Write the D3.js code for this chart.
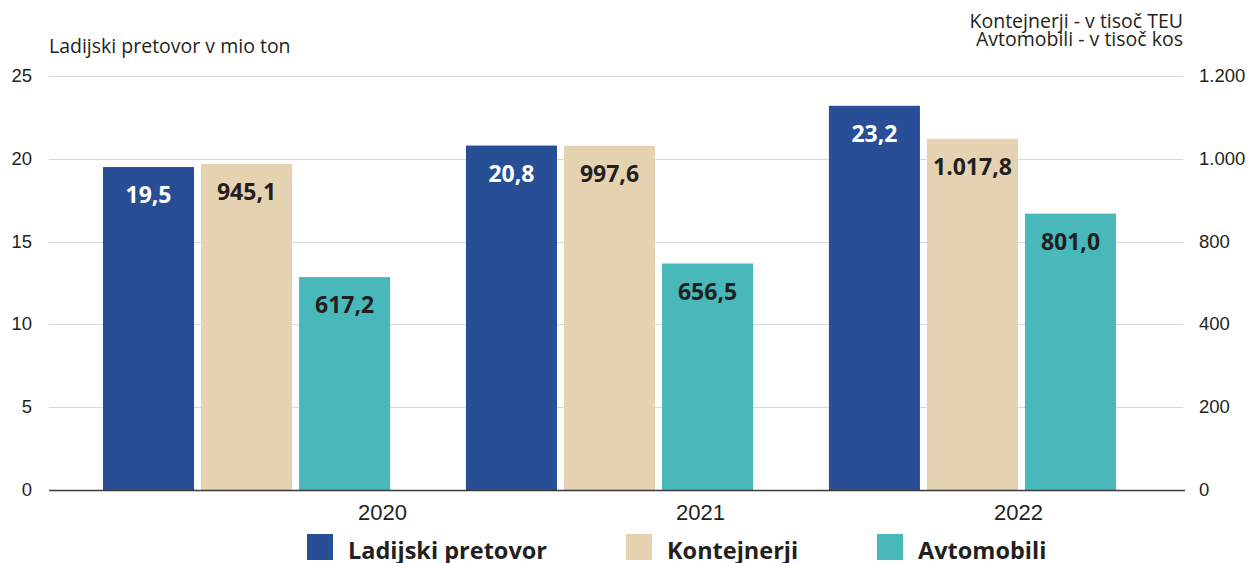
<!DOCTYPE html>
<html lang="sl">
<head>
    <meta charset="UTF-8">
    <title>Ladijski pretovor, kontejnerji in avtomobili</title>
    <script src="https://d3js.org/d3.v7.min.js"></script>
    <style>
        body { margin: 0; background: #fff; }
        svg { font-family: "Open Sans", "Noto Sans", sans-serif; }
        .grid line { stroke: #d9d9d9; }
        .tick text { fill: #231f20; }
    </style>
</head>
<body>
    <script>
        // Data
        const years = ["2020", "2021", "2022"];
        const series = ["Ladijski pretovor", "Kontejnerji", "Avtomobili"];
        const cargo = [19.5, 20.8, 23.2];          // mio ton (left axis)
        const containers = [945.1, 997.6, 1017.8]; // tisoč TEU (right axis)
        const cars = [617.2, 656.5, 801.0];        // tisoč kos (right axis)
        const leftTicks = [0, 5, 10, 15, 20, 25];
        const rightTickLabels = ["0", "200", "400", "800", "1.000", "1.200"];
        const colors = ["#284f96", "#e4d2b0", "#49b8ba"];

        const width = 1252, height = 563;
        const svg = d3.select("body").append("svg")
            .attr("width", width)
            .attr("height", height);

        const yLeft = d3.scaleLinear().domain([0, 25]).range([490, 76]);
        const yRight = d3.scaleLinear().domain([0, 1200]).range([490, 76]);

        const x = d3.scaleBand().domain(years).range([103, 1116]).paddingInner(0.209).paddingOuter(0);
        const xs = d3.scaleBand().domain(series).range([0, x.bandwidth()]).paddingInner(0.0714);
        const xLabel = d3.scalePoint().domain(years).range([382, 1018]);

        const sl = d3.formatLocale({ decimal: ",", thousands: ".", grouping: [3], currency: ["", " €"] });
        const fmt = sl.format(",.1f");

        // gridlines
        svg.append("g").attr("class", "grid")
            .selectAll("line")
            .data(leftTicks.filter(d => d > 0))
            .join("line")
            .attr("x1", 49).attr("x2", 1183)
            .attr("y1", d => Math.round(yLeft(d)) + 0.5).attr("y2", d => Math.round(yLeft(d)) + 0.5);

        // left axis
        const gl = svg.append("g")
            .attr("transform", "translate(32,0)")
            .call(d3.axisLeft(yLeft).tickValues(leftTicks).tickSize(0).tickPadding(0));
        gl.select(".domain").remove();
        gl.selectAll("text").attr("font-size", "18.5px").attr("dy", "0.3em");

        // right axis (labels as printed in original)
        const gr = svg.append("g")
            .attr("transform", "translate(1199,0)")
            .call(d3.axisRight(yLeft).tickValues(leftTicks).tickSize(0).tickPadding(0)
                .tickFormat((d, i) => rightTickLabels[i]));
        gr.select(".domain").remove();
        gr.selectAll("text").attr("font-size", "18.5px").attr("dy", "0.3em");

        // bars
        const rows = years.map((yr, i) => [
            { year: yr, key: series[0], value: cargo[i], y: yLeft, color: colors[0], text: "#fff" },
            { year: yr, key: series[1], value: containers[i], y: yRight, color: colors[1], text: "#231f20" },
            { year: yr, key: series[2], value: cars[i], y: yRight, color: colors[2], text: "#231f20" }
        ]);

        const groups = svg.append("g").selectAll("g")
            .data(rows)
            .join("g")
            .attr("transform", d => `translate(${x(d[0].year)},0)`);

        groups.selectAll("rect")
            .data(d => d)
            .join("rect")
            .attr("x", d => xs(d.key))
            .attr("width", xs.bandwidth())
            .attr("y", d => d.y(d.value))
            .attr("height", d => d.y(0) - d.y(d.value))
            .attr("fill", d => d.color);

        groups.selectAll("text")
            .data(d => d)
            .join("text")
            .attr("x", d => xs(d.key) + xs.bandwidth() / 2)
            .attr("y", d => d.y(d.value) + 36)
            .attr("text-anchor", "middle")
            .attr("font-size", "23px")
            .attr("font-weight", 700)
            .attr("fill", d => d.text)
            .text(d => fmt(d.value));

        // baseline
        svg.append("line")
            .attr("x1", 49).attr("x2", 1185)
            .attr("y1", 490.5).attr("y2", 490.5)
            .attr("stroke", "#3a3a3a").attr("stroke-width", 1.3);

        // year labels
        const gx = svg.append("g")
            .attr("transform", "translate(0,491)")
            .call(d3.axisBottom(xLabel).tickSize(0).tickPadding(0));
        gx.select(".domain").remove();
        gx.selectAll("text").attr("font-size", "22px").attr("dy", 0).attr("y", 29);

        // axis titles
        svg.append("text")
            .attr("x", 49).attr("y", 53)
            .attr("font-size", "19.5px").attr("fill", "#231f20")
            .text("Ladijski pretovor v mio ton");

        svg.append("text")
            .attr("text-anchor", "end")
            .attr("font-size", "19.5px").attr("fill", "#231f20")
            .selectAll("tspan")
            .data(["Kontejnerji - v tisoč TEU", "Avtomobili - v tisoč kos"])
            .join("tspan")
            .attr("x", 1183)
            .attr("y", (d, i) => 28 + i * 18)
            .text(d => d);

        // legend
        const legendX = [307, 626, 877];
        const lg = svg.append("g").selectAll("g")
            .data(series)
            .join("g")
            .attr("transform", (d, i) => `translate(${legendX[i]},534)`);
        lg.append("rect")
            .attr("width", 26).attr("height", 26)
            .attr("fill", (d, i) => colors[i]);
        lg.append("text")
            .attr("x", 41).attr("y", 25)
            .attr("font-size", "23.5px").attr("font-weight", 700)
            .attr("fill", "#231f20")
            .text(d => d);
    </script>
</body>
</html>
